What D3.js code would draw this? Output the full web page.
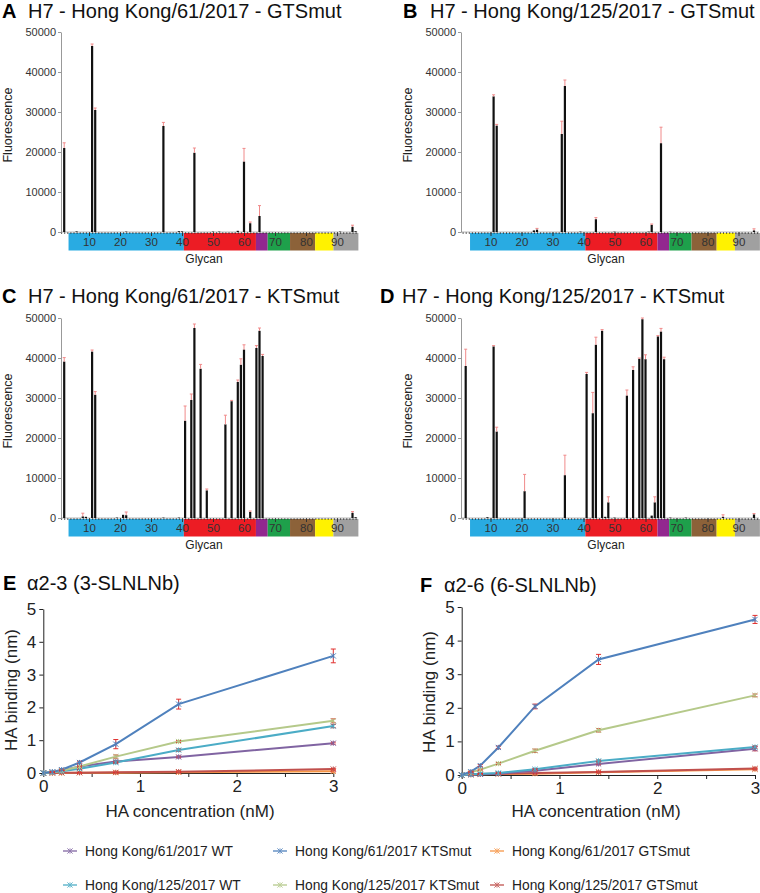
<!DOCTYPE html>
<html><head><meta charset="utf-8">
<script src="https://cdn.jsdelivr.net/npm/d3@7"></script>
<style>
body{margin:0;background:#fff}
svg{display:block;font-family:"Liberation Sans",Arial,Helvetica,sans-serif}
</style>
</head><body>
<svg id="chart" width="760" height="893"></svg>
<script>
// ---------------- DATA ----------------
const glycanTicks = [10, 20, 30, 40, 50, 60, 70, 80, 90];
const glycanCount = 96;
const fluoTicks = [0, 10000, 20000, 30000, 40000, 50000];
// glycan class boundaries (glycan index) for the coloured band
const glycanClassBounds = [3.4, 40.6, 63.85, 67.65, 74.85, 82.95, 88.85, 96.9];

const barTitles = [
  "H7 - Hong Kong/61/2017 - GTSmut",
  "H7 - Hong Kong/125/2017 - GTSmut",
  "H7 - Hong Kong/61/2017 - KTSmut",
  "H7 - Hong Kong/125/2017 - KTSmut"
];
const barLetters = ["A", "B", "C", "D"];

// [glycan number, mean fluorescence, SD]
const barsA = [[2,21000,1300],[6,150,0],[11,46500,500],[12,30500,500],[22,100,0],[34,26500,900],
  [39,200,0],[40,150,0],[44,19800,1200],[50,100,0],[52,100,0],[58,300,0],[60,17600,3300],
  [62,2200,300],[65,4000,2600],[91,100,0],[95,1300,400],[96,200,0]];
const barsB = [[11,33900,400],[12,26600,300],[24,400,0],[25,600,300],[33,24500,3200],[34,36500,1500],
  [39,100,0],[44,3200,400],[50,80,0],[61,100,0],[62,1800,200],[65,22200,4000],[68,60,0],[95,400,400]];
const barsC = [[2,39100,1000],[8,400,800],[9,300,0],[11,41600,400],[12,30800,800],[19,100,0],[21,800,0],
  [22,700,800],[34,100,0],[39,100,0],[41,24300,3700],[43,29500,1500],[44,47500,1000],[46,37300,1100],
  [48,6900,350],[54,23400,2300],[56,29200,200],[58,34000,500],[59,38300,1500],[60,42100,1200],
  [62,1500,250],[64,42500,600],[65,46800,700],[66,40500,400],[95,1300,300],[96,200,0]];
const barsD = [[2,38000,4200],[9,200,0],[11,42900,200],[12,21600,1100],[21,6700,4200],[34,10700,5000],
  [41,36000,400],[43,26200,5200],[44,43300,1900],[46,46800,300],[47,300,0],[48,3900,1400],[50,100,0],
  [54,30600,1400],[56,37000,800],[58,39800,200],[59,49700,300],[60,39700,1100],[62,600,0],
  [63,3900,1400],[64,45400,200],[65,46600,800],[66,39700,500],[68,100,0],[73,100,0],[85,300,500],[95,900,200]];

// Binding curves
const concentrations = [0, 0.094, 0.19, 0.375, 0.75, 1.4, 3];
const concTicks = [0, 0.5, 1, 1.5, 2, 2.5, 3];
const concLabels = [0, 1, 2, 3];
const bindingTicks = [0, 1, 2, 3, 4, 5];
const seriesNames = [
  "Hong Kong/61/2017 WT", "Hong Kong/61/2017 KTSmut", "Hong Kong/61/2017 GTSmut",
  "Hong Kong/125/2017 WT", "Hong Kong/125/2017 KTSmut", "Hong Kong/125/2017 GTSmut"
];
const curveTitles = ["\u03b12-3 (3-SLNLNb)", "\u03b12-6 (6-SLNLNb)"];
const curveLetters = ["E", "F"];

const bindingE = [
  [0, 0.03, 0.08, 0.20, 0.35, 0.49, 0.91],
  [0, 0.03, 0.10, 0.32, 0.88, 2.10, 3.57],
  [0, 0.00, 0.00, 0.01, 0.01, 0.02, 0.05],
  [0, 0.02, 0.05, 0.13, 0.32, 0.70, 1.43],
  [0, 0.02, 0.07, 0.20, 0.50, 0.96, 1.59],
  [0, 0.00, 0.01, 0.01, 0.02, 0.04, 0.12]
];
const errorE = [
  [0, 0.01, 0.01, 0.02, 0.03, 0.03, 0.03],
  [0, 0.01, 0.02, 0.04, 0.14, 0.15, 0.21],
  [0, 0.01, 0.01, 0.01, 0.01, 0.01, 0.02],
  [0, 0.01, 0.01, 0.02, 0.03, 0.04, 0.05],
  [0, 0.01, 0.01, 0.02, 0.05, 0.03, 0.06],
  [0, 0.01, 0.01, 0.01, 0.01, 0.02, 0.02]
];
const bindingF = [
  [0, 0.01, 0.02, 0.04, 0.13, 0.33, 0.78],
  [0, 0.10, 0.28, 0.82, 2.04, 3.44, 4.63],
  [0, 0.01, 0.02, 0.03, 0.04, 0.08, 0.17],
  [0, 0.02, 0.04, 0.06, 0.17, 0.42, 0.83],
  [0, 0.08, 0.16, 0.34, 0.72, 1.33, 2.37],
  [0, 0.02, 0.03, 0.04, 0.06, 0.09, 0.19]
];
const errorF = [
  [0, 0.01, 0.01, 0.01, 0.02, 0.03, 0.06],
  [0, 0.02, 0.03, 0.04, 0.07, 0.15, 0.12],
  [0, 0.01, 0.01, 0.01, 0.01, 0.01, 0.02],
  [0, 0.01, 0.01, 0.01, 0.02, 0.03, 0.04],
  [0, 0.02, 0.02, 0.03, 0.05, 0.05, 0.04],
  [0, 0.01, 0.01, 0.01, 0.01, 0.02, 0.02]
];

// ---------------- STYLE ----------------
const bandColors = ["#29abe2", "#ec1c24", "#92278f", "#1ea04b", "#8c6239", "#fff200", "#a0a0a0"];
const seriesColors = ["#8064a2", "#4f81bd", "#f79646", "#4bacc6", "#b5c98a", "#c0504d"];
const textColor = "#222";
const fontFam = '"Liberation Sans",Arial,sans-serif';

const svg = d3.select("#chart");

// ---------------- BAR PANELS ----------------
const barLayout = [
  {x0: 58,    axisX: 61,  top: 32,  bottom: 232, letterX: 2,   titleX: 28,  titleY: 18,  ylabX: 12,  glyX: 204},
  {x0: 459.5, axisX: 461, top: 32,  bottom: 232, letterX: 403, titleX: 430, titleY: 18,  ylabX: 412, glyX: 606},
  {x0: 58,    axisX: 61,  top: 318, bottom: 518, letterX: 2,   titleX: 28,  titleY: 303, ylabX: 12,  glyX: 204},
  {x0: 459.5, axisX: 461, top: 318, bottom: 518, letterX: 380, titleX: 402, titleY: 303, ylabX: 412, glyX: 606}
];
const barData = [barsA, barsB, barsC, barsD];
const glyStep = 3.1;

barLayout.forEach((L, i) => {
  const g = svg.append("g");
  const x = d3.scaleLinear().domain([0, 97]).range([L.x0, L.x0 + glyStep * 97]);
  const y = d3.scaleLinear().domain([0, 50000]).range([L.bottom, L.top]);
  const bandTop = L.bottom + 1, bandH = 17.5;

  // title
  g.append("text").attr("x", L.letterX).attr("y", L.titleY).attr("font-size", 20)
    .attr("font-weight", "bold").attr("fill", "#000").text(barLetters[i]);
  g.append("text").attr("x", L.titleX).attr("y", L.titleY).attr("font-size", 20)
    .attr("fill", "#111").text(barTitles[i]);

  // coloured glycan-class band
  for (let k = 0; k < bandColors.length; k++) {
    g.append("rect")
      .attr("x", x(glycanClassBounds[k])).attr("y", bandTop)
      .attr("width", x(glycanClassBounds[k + 1]) - x(glycanClassBounds[k]))
      .attr("height", bandH).attr("fill", bandColors[k]);
  }

  // minor glycan ticks (each glycan)
  const minor = g.append("g").attr("transform", `translate(0,${L.bottom})`)
    .call(d3.axisBottom(x).tickValues(d3.range(1, glycanCount + 1)).tickSize(2).tickFormat(""));
  minor.select(".domain").remove();
  minor.selectAll("line").attr("stroke", "#333").attr("stroke-width", 0.8);

  // major ticks with labels inside band
  const major = g.append("g").attr("transform", `translate(0,${L.bottom})`)
    .call(d3.axisBottom(x).tickValues(glycanTicks).tickSize(4).tickPadding(2).tickFormat(d3.format("d")));
  major.select(".domain").remove();
  major.selectAll("line").attr("stroke", "#333");
  major.selectAll("text").attr("font-size", 11.5).attr("fill", "#333").attr("font-family", fontFam);

  // y axis
  const ya = g.append("g").attr("transform", `translate(${L.axisX},0)`)
    .call(d3.axisLeft(y).tickValues(fluoTicks).tickSize(3).tickSizeOuter(0).tickPadding(2)
      .tickFormat(d3.format("d")));
  ya.select(".domain").attr("stroke", "#999");
  ya.selectAll("line").attr("stroke", "#999");
  ya.selectAll("text").attr("font-size", 11).attr("fill", "#333").attr("font-family", fontFam);

  // baseline
  g.append("line").attr("x1", L.axisX).attr("x2", x(96.6)).attr("y1", L.bottom).attr("y2", L.bottom)
    .attr("stroke", "#888").attr("stroke-width", 0.6);

  // bars
  const d = barData[i];
  g.selectAll("rect.bar").data(d).join("rect").attr("class", "bar")
    .attr("x", r => x(r[0]) - 1.1).attr("width", 2.2)
    .attr("y", r => y(r[1])).attr("height", r => L.bottom - y(r[1]))
    .attr("fill", "#111");
  // error bars
  const eb = d.filter(r => r[2] > 0);
  g.selectAll("line.err").data(eb).join("line").attr("class", "err")
    .attr("x1", r => x(r[0])).attr("x2", r => x(r[0]))
    .attr("y1", r => y(r[1])).attr("y2", r => y(r[1] + r[2]))
    .attr("stroke", "#f08a8a").attr("stroke-width", 1);
  g.selectAll("line.cap").data(eb).join("line").attr("class", "cap")
    .attr("x1", r => x(r[0]) - 1.5).attr("x2", r => x(r[0]) + 1.5)
    .attr("y1", r => y(r[1] + r[2])).attr("y2", r => y(r[1] + r[2]))
    .attr("stroke", "#f08a8a").attr("stroke-width", 1);

  // axis titles
  g.append("text").attr("transform", `translate(${L.ylabX},${(L.top + L.bottom) / 2 - 7}) rotate(-90)`)
    .attr("text-anchor", "middle").attr("font-size", 12.5).attr("fill", "#222").text("Fluorescence");
  g.append("text").attr("x", L.glyX).attr("y", L.bottom + 31).attr("text-anchor", "middle")
    .attr("font-size", 12).attr("fill", "#222").text("Glycan");
});

// ---------------- BINDING CURVES ----------------
const curveLayout = [
  {left: 43.3,  right: 333.3, top: 609, bottom: 773, letterX: 3,   titleX: 27,  titleY: 590, ylabX: 17,  ylabY: 690, xlabX: 190},
  {left: 461.7, right: 755,   top: 607, bottom: 775, letterX: 420, titleX: 444, titleY: 592, ylabX: 435, ylabY: 692, xlabX: 596}
];
const curveData = [[bindingE, errorE], [bindingF, errorF]];

function marker(sel, cx, cy, color) {
  const s = 2.6;
  sel.append("path")
    .attr("d", `M${cx - s},${cy - s}L${cx + s},${cy + s}M${cx - s},${cy + s}L${cx + s},${cy - s}M${cx},${cy - s}L${cx},${cy + s}`)
    .attr("stroke", color).attr("stroke-width", 1).attr("fill", "none");
}

curveLayout.forEach((L, i) => {
  const g = svg.append("g");
  const x = d3.scaleLinear().domain([0, 3]).range([L.left, L.right]);
  const y = d3.scaleLinear().domain([0, 5]).range([L.bottom, L.top]);

  g.append("text").attr("x", L.letterX).attr("y", L.titleY).attr("font-size", 20)
    .attr("font-weight", "bold").attr("fill", "#000").text(curveLetters[i]);
  g.append("text").attr("x", L.titleX).attr("y", L.titleY).attr("font-size", 20)
    .attr("fill", "#111").text(curveTitles[i]);

  const xa = g.append("g").attr("transform", `translate(0,${L.bottom})`)
    .call(d3.axisBottom(x).tickValues(concTicks).tickSize(4).tickSizeOuter(0).tickPadding(3)
      .tickFormat(v => concLabels.includes(v) ? d3.format("d")(v) : ""));
  xa.selectAll("text").attr("font-size", 17).attr("fill", textColor).attr("font-family", fontFam);
  xa.select(".domain").attr("stroke", "#222");
  xa.selectAll("line").attr("stroke", "#222");

  const ya = g.append("g").attr("transform", `translate(${L.left},0)`)
    .call(d3.axisLeft(y).tickValues(bindingTicks).tickSize(4).tickSizeOuter(0).tickPadding(3).tickFormat(d3.format("d")));
  ya.selectAll("text").attr("font-size", 17).attr("fill", textColor).attr("font-family", fontFam);
  ya.select(".domain").attr("stroke", "#222");
  ya.selectAll("line").attr("stroke", "#222");

  const [vals, errs] = curveData[i];
  const line = d3.line().x((v, j) => x(concentrations[j])).y(v => y(v));
  const order = [2, 5, 0, 3, 4, 1];
  order.forEach(s => {
    g.append("path").datum(vals[s]).attr("d", line).attr("fill", "none")
      .attr("stroke", seriesColors[s]).attr("stroke-width", 2);
  });
  order.forEach(s => {
    vals[s].forEach((v, j) => {
      const e = errs[s][j];
      if (e > 0) {
        const cx = x(concentrations[j]);
        g.append("path")
          .attr("d", `M${cx - 2.5},${y(v + e)}H${cx + 2.5}M${cx},${y(v + e)}V${y(v - e)}M${cx - 2.5},${y(v - e)}H${cx + 2.5}`)
          .attr("stroke", "#e0302e").attr("stroke-width", 1).attr("fill", "none");
      }
      marker(g, x(concentrations[j]), y(v), seriesColors[s]);
    });
  });

  g.append("text").attr("transform", `translate(${L.ylabX},${L.ylabY}) rotate(-90)`)
    .attr("text-anchor", "middle").attr("font-size", 17).attr("fill", textColor).text("HA binding (nm)");
  g.append("text").attr("x", L.xlabX).attr("y", 817).attr("text-anchor", "middle")
    .attr("font-size", 17).attr("fill", textColor).text("HA concentration (nM)");
});

// ---------------- LEGEND ----------------
const legendCols = [70, 280, 497];
const legendRows = [851, 885];
seriesNames.forEach((name, s) => {
  const cx = legendCols[s % 3], cy = legendRows[Math.floor(s / 3)];
  const g = svg.append("g").attr("opacity", 0.85);
  g.append("line").attr("x1", cx - 7).attr("x2", cx + 7).attr("y1", cy).attr("y2", cy)
    .attr("stroke", seriesColors[s]).attr("stroke-width", 1.5);
  marker(g, cx, cy, seriesColors[s]);
  svg.append("text").attr("x", cx + 15).attr("y", cy).attr("dy", "0.36em")
    .attr("font-size", 13.8).attr("fill", "#222").text(name);
});
</script>
</body></html>
